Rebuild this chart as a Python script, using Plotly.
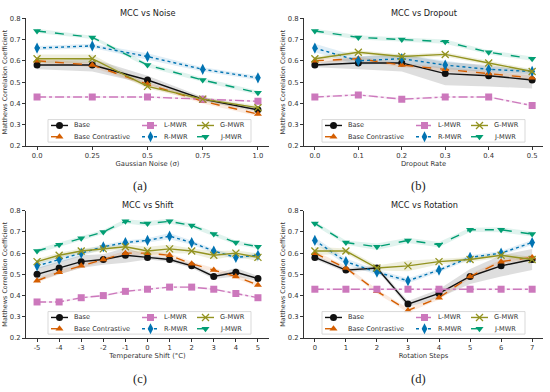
import plotly.graph_objects as go

# ---------------- data ----------------
series_names = ["Base", "Base Contrastive", "L-MWR", "R-MWR", "G-MWR", "J-MWR"]

noise_x = [0.0, 0.25, 0.5, 0.75, 1.0]
noise_labels = ["0.0", "0.25", "0.5", "0.75", "1.0"]
noise_base = [0.58, 0.58, 0.51, 0.42, 0.37]
noise_bc = [0.60, 0.58, 0.49, 0.41, 0.35]
noise_l = [0.43, 0.43, 0.43, 0.42, 0.41]
noise_r = [0.66, 0.67, 0.62, 0.56, 0.52]
noise_g = [0.61, 0.61, 0.48, 0.42, 0.38]
noise_j = [0.74, 0.71, 0.58, 0.51, 0.45]
noise_base_sd = [0.02, 0.03, 0.02, 0.01, 0.01]
noise_bc_sd = [0.01, 0.01, 0.01, 0.01, 0.01]
noise_l_sd = [0.005, 0.005, 0.005, 0.005, 0.005]
noise_r_sd = [0.01, 0.01, 0.015, 0.01, 0.01]
noise_g_sd = [0.02, 0.02, 0.01, 0.01, 0.01]
noise_j_sd = [0.01, 0.008, 0.01, 0.01, 0.01]

drop_x = [0.0, 0.1, 0.2, 0.3, 0.4, 0.5]
drop_labels = ["0.0", "0.1", "0.2", "0.3", "0.4", "0.5"]
drop_base = [0.58, 0.59, 0.59, 0.54, 0.53, 0.51]
drop_bc = [0.60, 0.61, 0.58, 0.56, 0.54, 0.52]
drop_l = [0.43, 0.44, 0.42, 0.43, 0.43, 0.39]
drop_r = [0.66, 0.60, 0.61, 0.58, 0.56, 0.55]
drop_g = [0.61, 0.64, 0.62, 0.63, 0.59, 0.55]
drop_j = [0.74, 0.71, 0.70, 0.69, 0.64, 0.61]
drop_base_sd = [0.01, 0.03, 0.04, 0.055, 0.05, 0.04]
drop_bc_sd = [0.01, 0.01, 0.01, 0.01, 0.01, 0.01]
drop_l_sd = [0.005, 0.005, 0.005, 0.005, 0.005, 0.005]
drop_r_sd = [0.02, 0.02, 0.02, 0.02, 0.012, 0.012]
drop_g_sd = [0.01, 0.01, 0.01, 0.01, 0.01, 0.01]
drop_j_sd = [0.01, 0.01, 0.01, 0.01, 0.01, 0.01]

shift_x = [-5, -4, -3, -2, -1, 0, 1, 2, 3, 4, 5]
shift_labels = ["-5", "-4", "-3", "-2", "-1", "0", "1", "2", "3", "4", "5"]
shift_base = [0.50, 0.53, 0.56, 0.57, 0.59, 0.58, 0.57, 0.54, 0.49, 0.51, 0.48]
shift_bc = [0.47, 0.51, 0.54, 0.57, 0.60, 0.60, 0.59, 0.55, 0.52, 0.49, 0.45]
shift_l = [0.37, 0.37, 0.39, 0.40, 0.42, 0.43, 0.44, 0.44, 0.43, 0.41, 0.39]
shift_r = [0.54, 0.57, 0.60, 0.63, 0.65, 0.66, 0.68, 0.65, 0.61, 0.58, 0.59]
shift_g = [0.56, 0.59, 0.61, 0.62, 0.63, 0.61, 0.62, 0.61, 0.59, 0.60, 0.58]
shift_j = [0.61, 0.64, 0.67, 0.70, 0.75, 0.74, 0.75, 0.73, 0.69, 0.65, 0.63]
shift_base_sd = [0.03, 0.03, 0.03, 0.025, 0.035, 0.01, 0.01, 0.01, 0.012, 0.02, 0.012]
shift_bc_sd = [0.01, 0.01, 0.01, 0.01, 0.01, 0.01, 0.01, 0.01, 0.01, 0.01, 0.01]
shift_l_sd = [0.005] * 11
shift_r_sd = [0.015, 0.015, 0.015, 0.01, 0.01, 0.01, 0.015, 0.01, 0.01, 0.01, 0.01]
shift_g_sd = [0.012, 0.012, 0.012, 0.012, 0.012, 0.02, 0.02, 0.012, 0.02, 0.012, 0.02]
shift_j_sd = [0.01, 0.01, 0.01, 0.01, 0.01, 0.012, 0.012, 0.01, 0.01, 0.01, 0.01]

rot_x = [0, 1, 2, 3, 4, 5, 6, 7]
rot_labels = ["0", "1", "2", "3", "4", "5", "6", "7"]
rot_base = [0.58, 0.52, 0.53, 0.36, 0.41, 0.49, 0.54, 0.57]
rot_bc = [0.60, 0.53, 0.42, 0.33, 0.39, 0.49, 0.56, 0.58]
rot_l = [0.43, 0.43, 0.43, 0.43, 0.43, 0.43, 0.43, 0.43]
rot_r = [0.66, 0.56, 0.51, 0.47, 0.52, 0.58, 0.60, 0.65]
rot_g = [0.61, 0.61, 0.53, 0.54, 0.56, 0.57, 0.59, 0.57]
rot_j = [0.74, 0.65, 0.63, 0.66, 0.64, 0.71, 0.71, 0.69]
rot_base_sd = [0.01, 0.01, 0.01, 0.015, 0.02, 0.035, 0.05, 0.05]
rot_bc_sd = [0.01, 0.01, 0.01, 0.01, 0.01, 0.01, 0.01, 0.01]
rot_l_sd = [0.005] * 8
rot_r_sd = [0.015, 0.015, 0.012, 0.012, 0.01, 0.01, 0.01, 0.012]
rot_g_sd = [0.02, 0.012, 0.012, 0.025, 0.012, 0.012, 0.012, 0.012]
rot_j_sd = [0.01, 0.01, 0.015, 0.012, 0.012, 0.01, 0.012, 0.012]

panels = [
    dict(title="MCC vs Noise", xlabel="Gaussian Noise (σ)", tag="(a)",
         x=noise_x, labels=noise_labels,
         ys=[noise_base, noise_bc, noise_l, noise_r, noise_g, noise_j],
         sds=[noise_base_sd, noise_bc_sd, noise_l_sd, noise_r_sd, noise_g_sd, noise_j_sd],
         xrange=[-0.05, 1.05]),
    dict(title="MCC vs Dropout", xlabel="Dropout Rate", tag="(b)",
         x=drop_x, labels=drop_labels,
         ys=[drop_base, drop_bc, drop_l, drop_r, drop_g, drop_j],
         sds=[drop_base_sd, drop_bc_sd, drop_l_sd, drop_r_sd, drop_g_sd, drop_j_sd],
         xrange=[-0.025, 0.525]),
    dict(title="MCC vs Shift", xlabel="Temperature Shift (°C)", tag="(c)",
         x=shift_x, labels=shift_labels,
         ys=[shift_base, shift_bc, shift_l, shift_r, shift_g, shift_j],
         sds=[shift_base_sd, shift_bc_sd, shift_l_sd, shift_r_sd, shift_g_sd, shift_j_sd],
         xrange=[-5.5, 5.5]),
    dict(title="MCC vs Rotation", xlabel="Rotation Steps", tag="(d)",
         x=rot_x, labels=rot_labels,
         ys=[rot_base, rot_bc, rot_l, rot_r, rot_g, rot_j],
         sds=[rot_base_sd, rot_bc_sd, rot_l_sd, rot_r_sd, rot_g_sd, rot_j_sd],
         xrange=[-0.35, 7.35]),
]

# ---------------- styles ----------------
colors = ["#111111", "#D55E00", "#CC78BC", "#0173B2", "#939320", "#029E73"]
band_colors = ["rgba(0,0,0,0.13)", "rgba(213,94,0,0.12)", "rgba(204,120,188,0.12)",
               "rgba(1,115,178,0.12)", "rgba(147,147,32,0.15)", "rgba(2,158,115,0.12)"]
dashes = ["solid", "dash", "dashdot", "dot", "solid", "dash"]
symbols = ["circle", "triangle-up", "square", "diamond-tall", "x-thin", "triangle-down"]
msizes = [7, 7, 7, 8, 7, 7]
legend_slots = [(0, 0), (0, 1), (1, 0), (1, 1), (2, 0), (2, 1)]  # (column, row)

W, H = 550, 392
def px_x(v):
    return v / W
def px_y(v):
    return 1 - v / H

x_domains = [[26, 269], [304, 543], [26, 269], [304, 543]]
y_domains = [[14.5, 145], [14.5, 145], [211, 341], [211, 341]]
title_pos = [(147.5, 9), (424, 9), (147.5, 205), (424, 205)]
tag_pos = [(140, 186), (418, 186), (140, 383), (418, 383)]
legend_origin = [(48, 118), (322, 118), (48, 314), (322, 314)]
legend_box = (203, 23)
legend_cols = [(3, 24), (94, 114), (149, 170)]   # (sample start, text start)
legend_rows = [6, 17.5]
sample_len = 17

font_family = "DejaVu Sans"
txt_color = "#333333"
fig = go.Figure()
layout = {}
annotations = []

for i, p in enumerate(panels):
    k = "" if i == 0 else str(i + 1)
    xa, ya = "x" + k, "y" + k
    for s in range(6):
        up = [a + b for a, b in zip(p["ys"][s], p["sds"][s])]
        lo = [a - b for a, b in zip(p["ys"][s], p["sds"][s])]
        fig.add_trace(go.Scatter(
            x=list(p["x"]) + list(p["x"])[::-1], y=up + lo[::-1],
            fill="toself", fillcolor=band_colors[s], line=dict(width=0),
            mode="lines", hoverinfo="skip", showlegend=False,
            xaxis=xa, yaxis=ya))
    for s in range(6):
        marker = dict(symbol=symbols[s], size=msizes[s], color=colors[s])
        if symbols[s] == "x-thin":
            marker["line"] = dict(width=1.3, color=colors[s])
        fig.add_trace(go.Scatter(
            x=p["x"], y=p["ys"][s], name=series_names[s], mode="lines+markers",
            line=dict(color=colors[s], width=1.4, dash=dashes[s]),
            marker=marker, showlegend=False, xaxis=xa, yaxis=ya))

    xd, yd = x_domains[i], y_domains[i]
    layout["xaxis" + k] = dict(
        domain=[px_x(xd[0]), px_x(xd[1])], range=p["xrange"], anchor=ya,
        tickmode="array", tickvals=p["x"], ticktext=p["labels"],
        showgrid=False, zeroline=False, showline=True, linecolor=txt_color, linewidth=1,
        ticks="outside", ticklen=3, tickwidth=1, tickcolor=txt_color, fixedrange=True,
        tickfont=dict(size=6.8, color=txt_color, family=font_family),
        title=dict(text=p["xlabel"], font=dict(size=6.8, color=txt_color, family=font_family), standoff=1))
    layout["yaxis" + k] = dict(
        domain=[px_y(yd[1]), px_y(yd[0])], range=[0.2, 0.8], anchor=xa,
        tickmode="array", tickvals=[0.2, 0.3, 0.4, 0.5, 0.6, 0.7, 0.8], tickformat=".1f",
        showgrid=False, zeroline=False, showline=True, linecolor=txt_color, linewidth=1,
        ticks="outside", ticklen=3, tickwidth=1, tickcolor=txt_color, fixedrange=True,
        tickfont=dict(size=6.8, color=txt_color, family=font_family),
        title=dict(text="Matthews Correlation Coefficient",
                   font=dict(size=6.4, color=txt_color, family=font_family), standoff=1))
    tx, ty = title_pos[i]
    annotations.append(dict(text=p["title"], x=px_x(tx), y=px_y(ty), xref="paper", yref="paper",
                            showarrow=False, xanchor="center", yanchor="middle",
                            font=dict(size=8.2, color="#222222", family=font_family)))
    gx, gy = tag_pos[i]
    annotations.append(dict(text=p["tag"], x=px_x(gx), y=px_y(gy), xref="paper", yref="paper",
                            showarrow=False, xanchor="center", yanchor="middle",
                            font=dict(size=12.5, color="#222222", family="Liberation Serif")))

# ---------------- per-panel legends (drawn on a pixel-space overlay axis) ----------------
for i in range(4):
    L, T = legend_origin[i]
    bw, bh = legend_box
    fig.add_trace(go.Scatter(
        x=[L, L + bw, L + bw, L, L], y=[T, T, T + bh, T + bh, T],
        fill="toself", fillcolor="rgba(255,255,255,0.8)", mode="lines",
        line=dict(color="#cfcfcf", width=0.8), hoverinfo="skip", showlegend=False,
        xaxis="x5", yaxis="y5"))
    for s in range(6):
        c, r = legend_slots[s]
        x0 = L + legend_cols[c][0]
        yy = T + legend_rows[r]
        marker = dict(symbol=symbols[s], size=msizes[s], color=colors[s], opacity=[0, 1, 0])
        if symbols[s] == "x-thin":
            marker["line"] = dict(width=1.3, color=colors[s])
        fig.add_trace(go.Scatter(
            x=[x0, x0 + sample_len / 2, x0 + sample_len], y=[yy, yy, yy],
            mode="lines+markers", line=dict(color=colors[s], width=1.4, dash=dashes[s]),
            marker=marker, hoverinfo="skip", showlegend=False, xaxis="x5", yaxis="y5"))
        annotations.append(dict(text=series_names[s], x=px_x(L + legend_cols[c][1]), y=px_y(yy),
                                xref="paper", yref="paper", showarrow=False,
                                xanchor="left", yanchor="middle",
                                font=dict(size=6.6, color=txt_color, family=font_family)))

layout["xaxis5"] = dict(domain=[0, 1], range=[0, W], visible=False, fixedrange=True, anchor="y5")
layout["yaxis5"] = dict(domain=[0, 1], range=[H, 0], visible=False, fixedrange=True, anchor="x5")

fig.update_layout(
    width=W, height=H, margin=dict(l=0, r=0, t=0, b=0),
    paper_bgcolor="white", plot_bgcolor="rgba(0,0,0,0)", hovermode=False,
    annotations=annotations, **layout)

fig.write_html("out.html", post_script="document.body.style.margin='0';",
               config={"displayModeBar": False})
